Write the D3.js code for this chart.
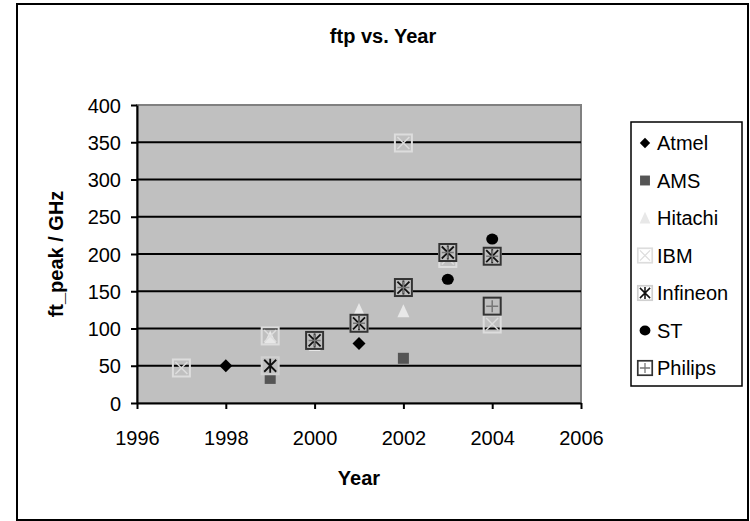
<!DOCTYPE html>
<html>
<head>
<meta charset="utf-8">
<script src="https://cdn.jsdelivr.net/npm/d3@7"></script>
<style>
  body { margin: 0; background: #fff; }
  text { font-family: "Liberation Sans", Arial, sans-serif; }
</style>
</head>
<body>
<div id="chart"></div>
<script>
// data: [year, ft_peak GHz]
var atmel = [[1998, 50], [2001, 80]];
var ams = [[1999, 33], [2002, 60]];
var hitachi = [[1999, 88], [2000, 78], [2001, 125], [2002, 123]];
var ibm = [[1997, 47], [1999, 90], [2002, 349], [2003, 194], [2004, 106]];
var infineon = [[1999, 50], [2000, 84], [2001, 107], [2002, 155], [2003, 202], [2004, 197]];
var st = [[2003, 166], [2004, 220]];
var philips = [[2000, 84], [2001, 107], [2002, 155], [2003, 202], [2004, 197], [2004, 130]];

var seriesNames = ["Atmel", "AMS", "Hitachi", "IBM", "Infineon", "ST", "Philips"];
var xTicks = [1996, 1998, 2000, 2002, 2004, 2006];
var yTicks = [0, 50, 100, 150, 200, 250, 300, 350, 400];

var series = [
  { name: "Atmel", data: atmel, shape: "diamond" },
  { name: "AMS", data: ams, shape: "square" },
  { name: "Hitachi", data: hitachi, shape: "triangle" },
  { name: "IBM", data: ibm, shape: "xbox" },
  { name: "Infineon", data: infineon, shape: "starbox" },
  { name: "ST", data: st, shape: "circle" },
  { name: "Philips", data: philips, shape: "plusbox" }
];

var W = 750, H = 521;
var plot = { left: 137, top: 105, right: 581, bottom: 403 };
var fs = 20;

var svg = d3.select('#chart').append('svg')
  .attr('width', W).attr('height', H);

// outer frame
svg.append('rect').attr('x', 17).attr('y', 4).attr('width', 731).attr('height', 516)
  .attr('fill', '#fff').attr('stroke', '#000').attr('stroke-width', 2);

var x = d3.scaleLinear().domain([1996, 2006]).range([plot.left, plot.right]);
var y = d3.scaleLinear().domain([0, 400]).range([plot.bottom, plot.top]);

svg.append('rect')
  .attr('x', plot.left).attr('y', plot.top)
  .attr('width', plot.right - plot.left).attr('height', plot.bottom - plot.top)
  .attr('fill', '#c0c0c0').attr('stroke', '#808080').attr('stroke-width', 2);

// gridlines
svg.append('g').selectAll('line').data(yTicks.filter(function(d) { return d > 0 && d < 400; }))
  .enter().append('line')
  .attr('x1', plot.left).attr('x2', plot.right)
  .attr('y1', function(d) { return y(d); }).attr('y2', function(d) { return y(d); })
  .attr('stroke', '#000').attr('stroke-width', 2);

var yAxis = svg.append('g').attr('transform', 'translate(' + plot.left + ',0)')
  .call(d3.axisLeft(y).tickValues(yTicks).tickSize(6).tickPadding(10).tickSizeOuter(0));
var xAxis = svg.append('g').attr('transform', 'translate(0,' + plot.bottom + ')')
  .call(d3.axisBottom(x).tickValues(xTicks).tickFormat(d3.format('d')).tickSize(6).tickPadding(22).tickSizeOuter(0));

[yAxis, xAxis].forEach(function(a) {
  a.select('.domain').attr('stroke', '#000').attr('stroke-width', 2);
  a.selectAll('.tick line').attr('stroke', '#000').attr('stroke-width', 2);
  a.selectAll('.tick text').attr('font-size', fs).attr('fill', '#000')
    .style('font-family', '"Liberation Sans", Arial, sans-serif');
});
yAxis.selectAll('.tick text').attr('dy', '0.36em');

// titles
svg.append('text').attr('x', 383).attr('y', 43).attr('text-anchor', 'middle')
  .attr('font-size', fs).attr('font-weight', 'bold').text('ftp vs. Year');
svg.append('text').attr('x', (plot.left + plot.right) / 2).attr('y', 485).attr('text-anchor', 'middle')
  .attr('font-size', fs).attr('font-weight', 'bold').text('Year');
svg.append('text').attr('transform', 'translate(63,' + ((plot.top + plot.bottom) / 2) + ') rotate(-90)')
  .attr('text-anchor', 'middle').attr('font-size', fs).attr('font-weight', 'bold').text('ft_peak / GHz');

// marker drawing; bg = colour behind the marker (plot or legend)
function drawMarker(g, shape, bg) {
  var b = 8.5;
  if (shape === 'diamond') {
    g.append('path').attr('d', 'M0,-6.5L6.5,0L0,6.5L-6.5,0Z').attr('fill', '#000');
  } else if (shape === 'square') {
    g.append('rect').attr('x', -5.5).attr('y', -5.5).attr('width', 11).attr('height', 11).attr('fill', '#555');
  } else if (shape === 'triangle') {
    g.append('path').attr('d', 'M0,-7L6,6L-6,6Z').attr('fill', '#e8e8e8');
  } else if (shape === 'circle') {
    g.append('ellipse').attr('rx', 6).attr('ry', 5.5).attr('fill', '#000');
  } else if (shape === 'xbox') {
    g.append('rect').attr('x', -b).attr('y', -b).attr('width', 2 * b).attr('height', 2 * b)
      .attr('fill', 'none').attr('stroke', '#ddd').attr('stroke-width', 2);
    g.append('path').attr('d', 'M-6,-6L6,6M6,-6L-6,6').attr('stroke', '#ddd').attr('stroke-width', 1.5);
  } else if (shape === 'starbox') {
    g.append('rect').attr('x', -b).attr('y', -b).attr('width', 2 * b).attr('height', 2 * b)
      .attr('fill', bg).attr('stroke', '#d0d0d0').attr('stroke-width', 2);
    g.append('path').attr('d', 'M-6,-6L6,6M6,-6L-6,6M0,-7L0,7').attr('stroke', '#111').attr('stroke-width', 1.8);
  } else if (shape === 'plusbox') {
    g.append('rect').attr('x', -b).attr('y', -b).attr('width', 2 * b).attr('height', 2 * b)
      .attr('fill', 'none').attr('stroke', '#333').attr('stroke-width', 2);
    g.append('path').attr('d', 'M-6,0L6,0M0,-6L0,6').attr('stroke', '#777').attr('stroke-width', 1.5);
  }
}

series.forEach(function(s) {
  var grp = svg.append('g').attr('class', 'series-' + s.name);
  s.data.forEach(function(d) {
    var m = grp.append('g').attr('transform', 'translate(' + x(d[0]) + ',' + y(d[1]) + ')');
    drawMarker(m, s.shape, '#c0c0c0');
  });
});

// legend
var legend = svg.append('g');
legend.append('rect').attr('x', 631).attr('y', 122).attr('width', 111).attr('height', 264)
  .attr('fill', '#fff').attr('stroke', '#000').attr('stroke-width', 1.5);
series.forEach(function(s, i) {
  var ly = 143 + i * 37.5;
  var sc = s.shape === 'diamond' ? 0.8 : (s.shape.indexOf('box') > 0 ? 0.85 : 0.9);
  var m = legend.append('g').attr('transform', 'translate(645,' + ly + ') scale(' + sc + ')');
  drawMarker(m, s.shape, '#fff');
  legend.append('text').attr('x', 657).attr('y', ly).attr('dy', '0.36em')
    .attr('font-size', fs).text(seriesNames[i]);
});
</script>
</body>
</html>
